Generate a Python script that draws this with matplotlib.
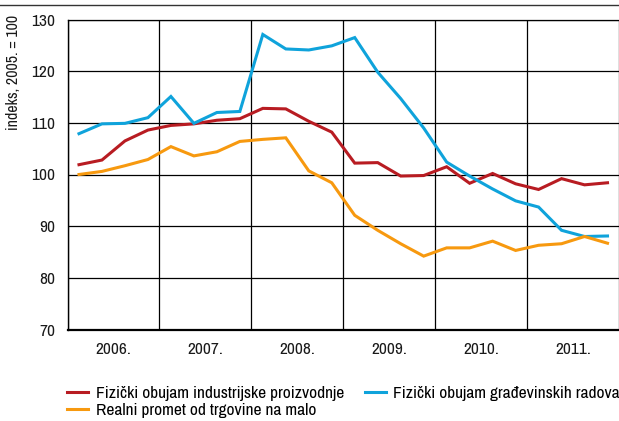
import matplotlib
matplotlib.use("Agg")
import matplotlib.pyplot as plt
from matplotlib.lines import Line2D
from matplotlib import font_manager

names = {f.name for f in font_manager.fontManager.ttflist}
candidates = ['Liberation Sans Narrow', 'Arial Narrow', 'Helvetica Narrow', 'Nimbus Sans Narrow',
              'Archivo Narrow', 'Roboto Condensed', 'PT Sans Narrow', 'Pragati Narrow',
              'Encode Sans Condensed', 'Fira Sans Condensed', 'IBM Plex Sans Condensed',
              'Asap Condensed', 'Barlow Semi Condensed', 'Open Sans Condensed']
chosen = next((c for c in candidates if c in names), 'Liberation Sans')
plt.rcParams['font.family'] = [chosen, 'DejaVu Sans']

years = ['2006.', '2007.', '2008.', '2009.', '2010.', '2011.']
industry = [101.9, 102.8, 106.5, 108.6, 109.5, 109.8, 110.5, 110.8,
            112.8, 112.7, 110.3, 108.2, 102.2, 102.3, 99.7, 99.8,
            101.5, 98.3, 100.2, 98.2, 97.1, 99.2, 98.0, 98.4]
construction = [107.9, 109.8, 109.9, 111.0, 115.1, 109.9, 112.0, 112.2,
                127.1, 124.3, 124.1, 124.9, 126.5, 119.8, 114.7, 109.0,
                102.4, 99.7, 97.2, 94.9, 93.7, 89.2, 88.0, 88.1]
retail = [100.0, 100.6, 101.7, 102.9, 105.4, 103.6, 104.4, 106.4,
          106.8, 107.1, 100.7, 98.4, 92.1, 89.2, 86.6, 84.2,
          85.8, 85.8, 87.1, 85.3, 86.3, 86.6, 88.0, 86.7]
labels = ['Fizički obujam industrijske proizvodnje',
          'Fizički obujam građevinskih radova',
          'Realni promet od trgovine na malo']
colors = ['#B81C22', '#0FA3DB', '#F7990F']

fig = plt.figure(figsize=(6.19, 4.21), dpi=100)
ax = fig.add_axes([67.5/619, 1-329.5/421, 551.5/619, 310/421])

x = [i + 0.5 for i in range(len(industry))]
l1, = ax.plot(x, industry, color=colors[0], lw=2.2, solid_joinstyle='miter')
l2, = ax.plot(x, construction, color=colors[1], lw=2.2, solid_joinstyle='miter')
l3, = ax.plot(x, retail, color=colors[2], lw=2.2, solid_joinstyle='miter')

ax.set_xlim(0, 24)
ax.set_ylim(70, 130)
ax.set_yticks(range(70, 131, 10))
ax.set_xticks(range(0, 25, 4))
ax.set_xticklabels([])
ax.set_xticks([2 + 4*k for k in range(len(years))], minor=True)
ax.set_xticklabels(years, minor=True)
ax.tick_params(axis='both', which='both', length=0, labelsize=12.5, colors='#1a1a1a')
ax.tick_params(axis='y', pad=9)
ax.tick_params(axis='x', which='minor', pad=9)
ax.grid(True, which='major', color='black', lw=0.9)
ax.set_axisbelow(True)
ax.spines['right'].set_visible(False)
ax.spines['top'].set_linewidth(0.9)
ax.spines['left'].set_linewidth(1.0)
ax.spines['bottom'].set_linewidth(1.6)

fig.add_artist(Line2D([0, 1], [1-4.5/421, 1-4.5/421], color='#333333', lw=1.0,
                      transform=fig.transFigure))

fig.text(14/619, 1-72/421, 'indeks, 2005. = 100', rotation=90, ha='center',
         va='center', fontsize=11.5, color='#1a1a1a')

fig.legend([l1, l3, l2], [labels[0], labels[2], labels[1]], ncol=2,
           loc='upper left', bbox_to_anchor=(67/619, 1-386/421), frameon=False,
           fontsize=12.5, handlelength=1.2, handletextpad=0.45, columnspacing=1.2,
           labelspacing=0.12, borderpad=0, borderaxespad=0)

fig.savefig('out.png', dpi=100)
